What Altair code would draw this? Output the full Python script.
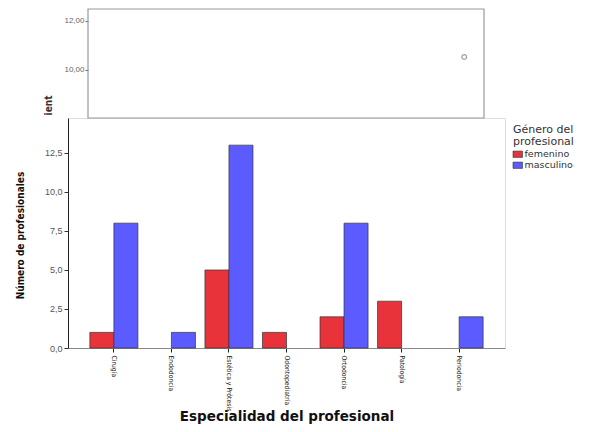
import altair as alt
import pandas as pd

categories = ["Cirugía", "Endodoncia", "Estética y Prótesis", "Odontopediatría",
              "Ortodoncia", "Patología", "Periodoncia"]
femenino = [1, 0, 5, 1, 2, 3, 0]
masculino = [8, 1, 13, 0, 8, 0, 2]
generos = ["femenino", "masculino"]
colores = ["#e8333b", "#5b5bff"]

bg_x = [0.95]
bg_y = [10.53]

rows = []
for c, f, m in zip(categories, femenino, masculino):
    rows.append({"esp": c, "gen": "femenino", "n": f})
    rows.append({"esp": c, "gen": "masculino", "n": m})
df = pd.DataFrame(rows)
bg = pd.DataFrame({"px": bg_x, "py": bg_y})

narrow = "'DejaVu Sans Condensed', 'Liberation Sans Narrow', 'Roboto Condensed', 'Noto Sans'"

frame = alt.Chart(bg).mark_rect(fill="white", fillOpacity=0, stroke="#999", strokeWidth=1.2).encode(
    x=alt.value(20), x2=alt.value(416), y=alt.value(-109), y2=alt.value(0)
)

pt = alt.Chart(bg).mark_point(shape="circle", size=22, color="#777", strokeWidth=1.2, filled=False).encode(
    x=alt.X("px:Q", axis=None, scale=alt.Scale(domain=[0, 1], range=[20, 416], nice=False, zero=False)),
    y=alt.Y("py:Q",
            scale=alt.Scale(domain=[8.16, 12.73], range=[-3, -115], nice=False, zero=False),
            axis=alt.Axis(orient="left", offset=-20, values=[10, 12], domain=False, grid=False,
                          labelExpr="replace(format(datum.value, '.2f'), '.', ',')",
                          labelFontSize=8, labelColor="#666", labelFont="Liberation Sans",
                          tickSize=3, tickColor="#666", labelPadding=1,
                          title="ient", titleFont=narrow, titleFontSize=10, titleFontWeight="bold",
                          titleColor="#333", titleX=-40, titleY=-13, titleAngle=270,
                          titleAlign="center", titleBaseline="middle")),
)

bars = alt.Chart(df).transform_filter("datum.n > 0").mark_bar(stroke="#333", strokeWidth=0.7).encode(
    x=alt.X("esp:N", sort=categories,
            scale=alt.Scale(domain=categories, paddingInner=0.165, paddingOuter=0.38),
            axis=alt.Axis(title="Especialidad del profesional", labelAngle=90, labelAlign="left",
                          labelBaseline="middle", labelFont=narrow, labelFontSize=6.8, labelColor="#222",
                          labelPadding=3, tickSize=4, tickColor="#222", domainColor="#888",
                          titleFont="DejaVu Sans", titleFontSize=13.5, titleFontWeight="bold",
                          titleColor="#111", titleY=72, titleBaseline="alphabetic")),
    xOffset=alt.XOffset("gen:N", sort=generos, scale=alt.Scale(domain=generos)),
    y=alt.Y("n:Q", scale=alt.Scale(domain=[0, 14.74], nice=False),
            axis=alt.Axis(orient="left", values=[0, 2.5, 5, 7.5, 10, 12.5], grid=False,
                          labelExpr="replace(format(datum.value, '.1f'), '.', ',')",
                          labelFontSize=9, labelColor="#555", labelFont="Liberation Sans",
                          tickSize=4, tickColor="#333", domainColor="#222", labelPadding=2,
                          title="Número de profesionales", titleFont=narrow, titleFontSize=10,
                          titleFontWeight="bold", titleColor="#111", titleX=-48, titleY=117,
                          titleAngle=270, titleAlign="center", titleBaseline="middle")),
    color=alt.Color("gen:N", scale=alt.Scale(domain=generos, range=colores),
                    legend=alt.Legend(title=["Género del", "profesional"], orient="none",
                                      legendX=445, legendY=6, titleFont="DejaVu Sans",
                                      titleFontSize=11, titleFontWeight="normal", titleColor="#333",
                                      titleLineHeight=11.5, titlePadding=3, labelFont="DejaVu Sans",
                                      labelFontSize=9.5, labelColor="#333",
                                      symbolType="M-1.5,-1H1.5V1H-1.5Z",
                                      symbolSize=40, symbolStrokeColor="#333", symbolStrokeWidth=0.6,
                                      rowPadding=0, labelOffset=2)),
)

chart = alt.layer(frame, pt, bars).resolve_scale(
    x="independent", y="independent", color="independent"
).resolve_axis(x="independent", y="independent").properties(
    width=437, height=230,
    autosize=alt.AutoSizeParams(type="none"),
    padding={"left": 60, "top": 110, "right": 77, "bottom": 76},
).configure_view(stroke="#999", strokeWidth=1.2).configure(background="white")

chart.save("out.html", embed_options={"renderer": "svg", "actions": False})
